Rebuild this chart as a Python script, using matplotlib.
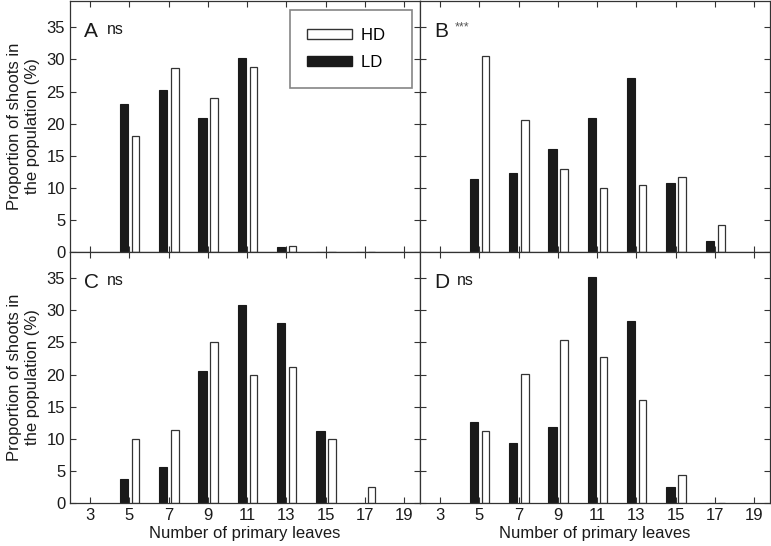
import matplotlib
matplotlib.use("Agg")
import numpy as np
import matplotlib.pyplot as plt
from matplotlib.patches import Patch

plt.rcParams['font.family'] = ['Liberation Sans', 'DejaVu Sans']

leaves = [5, 7, 9, 11, 13, 15, 17]

# panel A
ldA = [23.1, 25.3, 20.9, 30.3, 0.7, 0, 0]
hdA = [18.0, 28.7, 24.0, 28.8, 0.9, 0, 0]
# panel B
ldB = [11.4, 12.3, 16.1, 20.9, 27.1, 10.8, 1.7]
hdB = [30.5, 20.6, 12.9, 9.9, 10.5, 11.7, 4.2]
# panel C
ldC = [3.7, 5.6, 20.6, 30.9, 28.1, 11.2, 0]
hdC = [10.0, 11.3, 25.0, 20.0, 21.2, 10.0, 2.5]
# panel D
ldD = [12.6, 9.4, 11.9, 35.2, 28.3, 2.5, 0]
hdD = [11.2, 20.1, 25.4, 22.7, 16.0, 4.4, 0]

panels = [("A", "ns", ldA, hdA), ("B", "***", ldB, hdB),
          ("C", "ns", ldC, hdC), ("D", "ns", ldD, hdD)]

xticks = [3, 5, 7, 9, 11, 13, 15, 17, 19]
yticks = [0, 5, 10, 15, 20, 25, 30, 35]

fig = plt.figure(figsize=(7.71, 5.46), dpi=100)
rects = [[0.0908, 0.5385, 0.4540, 0.4595],
         [0.5447, 0.5385, 0.4540, 0.4595],
         [0.0908, 0.0788, 0.4540, 0.4597],
         [0.5447, 0.0788, 0.4540, 0.4597]]

x = np.array(leaves)
w = 0.42
for i, (letter, sig, ld, hd) in enumerate(panels):
    ax = fig.add_axes(rects[i])
    ax.bar(x - 0.27, ld, width=w, color='#1a1a1a', edgecolor='#1a1a1a', linewidth=0.8)
    ax.bar(x + 0.32, hd, width=w - 0.04, color='white', edgecolor='#333333', linewidth=0.9)
    ax.set_ylim(0, 39.1)
    ax.set_xlim(1.98, 19.8)
    ax.set_xticks(xticks)
    ax.set_yticks(yticks)
    ax.tick_params(direction='in', top=True, right=True, length=4, width=0.8,
                   labelsize=12, colors='#333333', labelcolor='#1a1a1a')
    if i < 2:
        ax.set_xticklabels([])
    else:
        ax.set_xlabel("Number of primary leaves", fontsize=12, color='#1a1a1a', labelpad=2)
    if i % 2 == 1:
        ax.set_yticklabels([])
    else:
        ax.set_ylabel("Proportion of shoots in\nthe population (%)", fontsize=12,
                      color='#1a1a1a', labelpad=5)
    for s in ax.spines.values():
        s.set_linewidth(0.9)
        s.set_color('#333333')
    ax.text(0.04, 0.88, letter, transform=ax.transAxes, fontsize=15,
            ha='left', va='center', color='#1a1a1a')
    if sig == 'ns':
        ax.text(0.105, 0.885, sig, transform=ax.transAxes, fontsize=11.5,
                ha='left', va='center', color='#1a1a1a')
    else:
        ax.text(0.1, 0.895, sig, transform=ax.transAxes, fontsize=9,
                ha='left', va='center', color='#555555')
    if i == 0:
        # trailing spaces widen the legend box like the original
        handles = [Patch(facecolor='white', edgecolor='#333333', label='HD  '),
                   Patch(facecolor='#1a1a1a', edgecolor='#1a1a1a', label='LD  ')]
        leg = ax.legend(handles=handles, loc='upper right', fontsize=12,
                        handlelength=2.7, handleheight=0.55, borderpad=1.05,
                        labelspacing=0.75, handletextpad=0.55, fancybox=False,
                        borderaxespad=0, bbox_to_anchor=(0.977, 0.964))
        leg.get_frame().set_edgecolor('#666666')
        leg.get_frame().set_linewidth(1.2)

fig.savefig("out.png", dpi=100)
